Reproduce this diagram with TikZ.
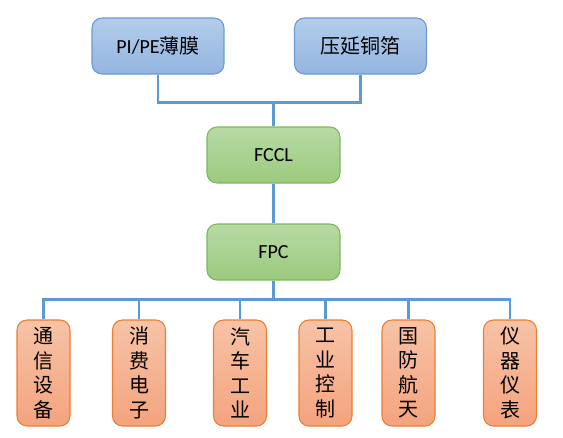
\documentclass[tikz,border=0pt]{standalone}
\usepackage{fontspec}
\setmainfont{Carlito}
\newfontfamily\cjk{Noto Sans CJK SC}
\usetikzlibrary{positioning}
\definecolor{lineblue}{HTML}{5B9BD5}
\definecolor{blueedge}{HTML}{6A9AD2}
\definecolor{bluetop}{HTML}{B3CDEA}
\definecolor{bluebot}{HTML}{93B5E0}
\definecolor{greenedge}{HTML}{7EB75E}
\definecolor{greentop}{HTML}{B8DAA5}
\definecolor{greenbot}{HTML}{9BCA7D}
\definecolor{orangeedge}{HTML}{ED7D31}
\definecolor{orangetop}{HTML}{F7C3A7}
\definecolor{orangebot}{HTML}{F4A37D}
\tikzset{
  link/.style={draw=lineblue, line width=1.7pt},
  rawbox/.style={draw=blueedge, line width=0.8pt, rounded corners=7.5pt, top color=bluetop, bottom color=bluebot,
    minimum width=99pt, minimum height=42pt, font=\fontsize{15}{17}\selectfont},
  midbox/.style={draw=greenedge, line width=0.8pt, rounded corners=7.5pt, top color=greentop, bottom color=greenbot,
    minimum width=99.75pt, minimum height=42pt, font=\fontsize{15}{17}\selectfont},
  usebox/.style={draw=orangeedge, line width=0.8pt, rounded corners=7.5pt, top color=orangetop, bottom color=orangebot,
    minimum width=39.75pt, minimum height=79.5pt, inner sep=0pt, align=center,
    font=\cjk\fontsize{15}{18.4}\selectfont},
}
\begin{document}
\begin{tikzpicture}[x=0.75pt,y=-0.75pt]
  \useasboundingbox (0,0) rectangle (563,437);

  % materials
  \node[rawbox] (pi) at (158,46) {PI/PE{\cjk 薄膜}};
  \node[rawbox] (cu) at (360.5,46) {\cjk 压延铜箔};

  % FCCL and FPC
  \node[midbox] (fccl) at (273.5,155) {FCCL};
  \node[midbox] (fpc) at (273.5,252) {FPC};

  \draw[link] (pi.south) -- ++(0,28) -| (cu.south);
  \draw[link] (fccl.north) -- ++(0,-25);
  \draw[link] (fccl.south) -- (fpc.north);
  \draw[link] (fpc.south) -- ++(0,19) coordinate (bus);

  % applications
  \foreach \i/\x/\t in {1/43.5/通\\信\\设\\备, 2/139/消\\费\\电\\子, 3/240/汽\\车\\工\\业,
                        4/325.5/工\\业\\控\\制, 5/408.5/国\\防\\航\\天, 6/510/仪\\器\\仪\\表} {
    \node[usebox] (b\i) at (\x,373) {\t};
    \draw[link] (b\i.north) |- (bus);
  }
\end{tikzpicture}
\end{document}
